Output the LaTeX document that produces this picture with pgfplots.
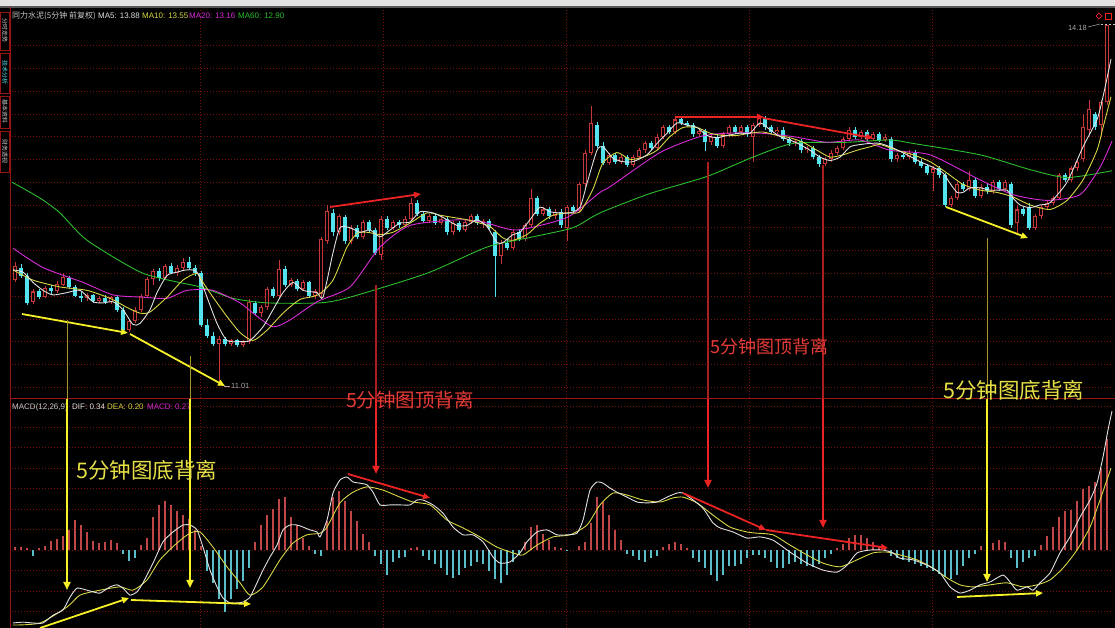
\documentclass[border=0pt]{standalone}
\usepackage{pgfplots}
\pgfplotsset{compat=1.18}
\usepackage{pgfplotstable}
\usepackage{fontspec}
\setmainfont{Liberation Sans}
\newfontfamily\cjk{Noto Sans CJK SC}
\usetikzlibrary{arrows.meta,shapes.geometric}
\definecolor{gridred}{RGB}{120,16,16}
\definecolor{sepred}{RGB}{150,20,20}
\definecolor{upred}{RGB}{200,55,55}
\definecolor{dncyan}{RGB}{84,228,240}
\definecolor{ma5}{RGB}{225,225,225}
\definecolor{ma10}{RGB}{215,215,70}
\definecolor{ma20}{RGB}{215,45,215}
\definecolor{ma60}{RGB}{45,190,45}
\definecolor{histred}{RGB}{190,70,70}
\definecolor{histcyan}{RGB}{90,190,200}
\definecolor{arrred}{RGB}{235,35,35}
\definecolor{arryel}{RGB}{245,240,40}
\definecolor{arrdim}{RGB}{170,150,40}
\definecolor{arrdimred}{RGB}{170,30,30}
\definecolor{txtred}{RGB}{230,60,55}
\definecolor{txtyel}{RGB}{230,225,70}
\definecolor{lgray}{RGB}{200,200,200}
\definecolor{mgray}{RGB}{165,165,165}

\pgfplotsset{panel/.style={
  scale only axis, width=1101pt, xmin=12, xmax=1113, anchor=south west,
  axis line style={draw=none}, tick style={draw=none},
  xticklabels={}, yticklabels={},
  xtick={200,383,566,749,932},
  grid=major, major grid style={gridred, line width=0.6pt, dash pattern=on 1pt off 2pt},
}}

\pgfplotstableread{
x o h l c
15 11.94 12.10 11.92 12.06
33 11.75 11.86 11.73 11.84
45 11.79 11.89 11.78 11.87
57 11.84 11.93 11.83 11.91
63 11.90 12.00 11.89 11.97
87 11.78 11.83 11.76 11.81
99 11.76 11.80 11.74 11.78
111 11.75 11.80 11.73 11.79
129 11.50 11.60 11.48 11.58
135 11.58 11.70 11.56 11.68
141 11.68 11.82 11.66 11.80
147 11.80 11.97 11.78 11.95
153 11.95 12.04 11.90 12.02
165 11.96 12.08 11.94 12.06
177 12.00 12.07 11.98 12.05
183 12.05 12.13 12.03 12.10
219 11.38 11.45 11.01 11.42
231 11.38 11.42 11.36 11.41
243 11.37 11.41 11.35 11.40
249 11.40 11.77 11.38 11.75
261 11.65 11.72 11.62 11.70
267 11.70 11.88 11.68 11.86
279 11.80 12.12 11.78 12.04
291 11.90 11.96 11.88 11.94
303 11.86 11.94 11.84 11.92
315 11.80 11.86 11.77 11.84
321 11.82 12.32 11.78 12.30
327 12.28 12.60 12.26 12.55
339 12.36 12.52 12.34 12.50
351 12.28 12.42 12.26 12.40
363 12.32 12.47 12.30 12.45
381 12.16 12.50 12.12 12.48
393 12.40 12.47 12.38 12.45
405 12.42 12.50 12.40 12.48
411 12.48 12.66 12.46 12.62
429 12.46 12.52 12.44 12.50
441 12.44 12.50 12.42 12.48
453 12.36 12.46 12.34 12.44
465 12.38 12.47 12.36 12.45
471 12.45 12.52 12.43 12.50
483 12.44 12.48 12.40 12.46
501 12.15 12.29 12.08 12.27
513 12.22 12.38 12.20 12.36
525 12.30 12.44 12.28 12.42
531 12.42 12.74 12.40 12.66
543 12.52 12.58 12.50 12.56
555 12.50 12.56 12.48 12.54
567 12.40 12.60 12.28 12.58
579 12.55 12.80 12.53 12.78
585 12.78 13.08 12.76 13.06
591 13.06 13.47 13.04 13.32
609 12.97 13.06 12.95 13.04
621 12.98 13.04 12.96 13.02
633 12.95 13.04 12.93 13.02
639 13.02 13.10 13.00 13.08
645 13.08 13.16 13.06 13.14
657 13.10 13.22 13.08 13.20
663 13.20 13.30 13.18 13.28
675 13.24 13.38 13.22 13.35
699 13.22 13.27 13.20 13.25
711 13.15 13.22 13.13 13.20
723 13.12 13.24 13.10 13.22
729 13.22 13.30 13.20 13.28
741 13.24 13.30 13.22 13.28
753 13.20 13.32 12.98 13.30
759 13.30 13.38 13.28 13.36
777 13.24 13.28 13.22 13.26
795 13.14 13.18 13.12 13.16
807 13.08 13.12 13.06 13.10
825 12.96 13.02 12.94 13.00
831 13.00 13.08 12.98 13.06
837 13.06 13.12 13.04 13.10
843 13.10 13.20 13.08 13.18
849 13.18 13.28 13.16 13.26
861 13.20 13.26 13.18 13.24
873 13.18 13.24 13.16 13.22
885 13.17 13.22 13.15 13.20
897 13.00 13.06 12.98 13.04
909 13.02 13.08 13.00 13.06
933 12.88 12.94 12.72 12.92
951 12.60 12.68 12.58 12.66
957 12.66 12.80 12.64 12.78
969 12.74 12.90 12.72 12.82
981 12.68 12.78 12.66 12.76
993 12.72 12.82 12.70 12.80
1005 12.74 12.82 12.72 12.80
1017 12.44 12.60 12.34 12.56
1035 12.40 12.52 12.38 12.50
1041 12.50 12.60 12.48 12.58
1047 12.58 12.64 12.56 12.62
1053 12.62 12.68 12.60 12.66
1059 12.66 12.88 12.64 12.86
1071 12.82 12.94 12.80 12.92
1077 12.92 13.00 12.90 12.98
1083 13.00 13.40 12.98 13.28
1089 13.26 13.52 13.22 13.44
1101 13.30 13.52 13.20 13.50
1107 13.50 14.18 13.48 14.18
}\up

\pgfplotstableread{
x o h l c
21 12.05 12.08 11.96 11.98
27 11.98 12.00 11.72 11.74
39 11.84 11.86 11.77 11.79
51 11.87 11.90 11.82 11.84
69 11.96 11.98 11.86 11.88
75 11.88 11.90 11.79 11.80
81 11.80 11.84 11.75 11.78
93 11.81 11.82 11.74 11.76
105 11.78 11.81 11.73 11.75
117 11.79 11.80 11.66 11.68
123 11.68 11.70 11.47 11.50
159 12.02 12.05 11.93 11.96
171 12.06 12.09 11.99 12.00
189 12.10 12.14 12.03 12.05
195 12.05 12.07 11.98 12.00
201 12.00 12.02 11.53 11.55
207 11.55 11.60 11.43 11.45
213 11.45 11.48 11.36 11.38
225 11.42 11.44 11.36 11.38
237 11.41 11.42 11.35 11.37
255 11.74 11.76 11.63 11.65
273 11.86 11.88 11.78 11.80
285 12.04 12.06 11.88 11.90
297 11.93 11.95 11.84 11.86
309 11.92 11.93 11.78 11.80
333 12.53 12.56 12.33 12.36
345 12.49 12.51 12.26 12.28
357 12.40 12.42 12.30 12.32
369 12.45 12.47 12.36 12.38
375 12.38 12.40 12.16 12.18
387 12.48 12.50 12.38 12.40
399 12.45 12.47 12.40 12.42
417 12.62 12.64 12.50 12.52
423 12.52 12.54 12.44 12.46
435 12.50 12.52 12.42 12.44
447 12.48 12.50 12.34 12.36
459 12.44 12.46 12.36 12.38
477 12.50 12.52 12.42 12.44
489 12.46 12.48 12.38 12.40
495 12.36 12.38 11.79 12.15
507 12.27 12.29 12.20 12.22
519 12.36 12.38 12.28 12.30
537 12.66 12.68 12.50 12.52
549 12.56 12.58 12.48 12.50
561 12.54 12.56 12.40 12.42
573 12.58 12.60 12.53 12.55
597 13.30 13.33 13.10 13.12
603 13.12 13.15 12.95 12.97
615 13.04 13.06 12.96 12.98
627 13.02 13.04 12.93 12.95
651 13.14 13.16 13.08 13.10
669 13.28 13.30 13.22 13.24
681 13.35 13.37 13.30 13.32
687 13.32 13.34 13.28 13.30
693 13.30 13.32 13.20 13.22
705 13.25 13.27 13.07 13.15
717 13.20 13.22 13.10 13.12
735 13.28 13.30 13.22 13.24
747 13.28 13.30 13.20 13.22
765 13.36 13.38 13.26 13.28
771 13.28 13.30 13.22 13.24
783 13.26 13.28 13.16 13.18
789 13.18 13.20 13.12 13.14
801 13.16 13.18 13.06 13.08
813 13.10 13.12 13.00 13.02
819 13.02 13.04 12.93 12.96
855 13.26 13.28 13.18 13.20
867 13.24 13.26 13.16 13.18
879 13.22 13.24 13.15 13.17
891 13.18 13.20 12.98 13.00
903 13.04 13.06 13.00 13.02
915 13.06 13.08 12.96 12.98
921 12.98 13.00 12.92 12.94
927 12.94 12.96 12.86 12.88
939 12.92 12.94 12.84 12.86
945 12.86 12.88 12.58 12.60
963 12.78 12.80 12.72 12.74
975 12.82 12.84 12.66 12.68
987 12.76 12.78 12.70 12.72
999 12.80 12.82 12.72 12.74
1011 12.78 12.80 12.40 12.42
1023 12.56 12.58 12.50 12.52
1029 12.58 12.62 12.38 12.40
1065 12.86 12.88 12.80 12.82
1095 13.40 13.42 13.26 13.28
}\dn

\pgfplotstableread{
x v
15 0.008
21 0.008
27 0.005
33 -0.015
39 0.004
45 0.010
51 0.022
57 0.028
63 0.035
69 0.050
75 0.072
81 0.060
87 0.045
93 0.022
99 0.018
105 0.020
111 0.025
117 0.018
123 -0.010
129 -0.028
135 -0.020
141 0.012
147 0.030
153 0.080
159 0.110
165 0.120
171 0.110
177 0.095
183 0.085
189 0.075
195 0.050
201 0.010
207 -0.050
213 -0.080
219 -0.120
225 -0.150
231 -0.120
237 -0.095
243 -0.075
249 -0.045
255 0.020
261 0.060
267 0.085
273 0.100
279 0.125
285 0.130
291 0.080
297 0.060
303 0.030
309 0.010
315 -0.010
321 -0.015
327 0.070
333 0.130
339 0.145
345 0.120
351 0.095
357 0.070
363 0.040
369 0.020
375 -0.015
381 -0.035
387 -0.060
393 -0.030
399 -0.020
405 -0.018
411 0.005
417 0.008
423 -0.015
429 -0.025
435 -0.035
441 -0.045
447 -0.060
453 -0.068
459 -0.060
465 -0.045
471 -0.040
477 -0.030
483 -0.035
489 -0.050
495 -0.070
501 -0.080
507 -0.060
513 -0.030
519 -0.012
525 0.020
531 0.055
537 0.060
543 0.040
549 0.025
555 0.008
561 0.005
567 -0.003
573 0.000
579 0.010
585 0.020
591 0.065
597 0.130
603 0.118
609 0.085
615 0.050
621 0.025
627 -0.010
633 -0.015
639 -0.025
645 -0.030
651 -0.020
657 -0.015
663 0.008
669 0.015
675 0.020
681 0.015
687 0.005
693 -0.020
699 -0.030
705 -0.045
711 -0.060
717 -0.075
723 -0.060
729 -0.040
735 -0.038
741 -0.035
747 -0.020
753 -0.012
759 -0.012
765 -0.020
771 -0.030
777 -0.045
783 -0.045
789 -0.035
795 -0.030
801 -0.035
807 -0.040
813 -0.042
819 -0.035
825 -0.020
831 -0.010
837 0.005
843 0.015
849 0.030
855 0.036
861 0.036
867 0.030
873 0.020
879 0.010
885 0.005
891 -0.015
897 -0.020
903 -0.025
909 -0.030
915 -0.035
921 -0.040
927 -0.045
933 -0.050
939 -0.058
945 -0.066
951 -0.070
957 -0.060
963 -0.040
969 -0.020
975 -0.010
981 0.010
987 0.020
993 0.018
999 0.025
1005 0.020
1011 -0.020
1017 -0.045
1023 -0.030
1029 -0.020
1035 -0.015
1041 0.012
1047 0.035
1053 0.055
1059 0.080
1065 0.095
1071 0.098
1077 0.120
1083 0.150
1089 0.155
1095 0.165
1101 0.200
1107 0.270
}\hist

\begin{document}
\begin{tikzpicture}[x=1pt,y=1pt]
\fill[black] (0pt,0pt) rectangle (1115pt,628pt);
\useasboundingbox (0pt,0pt) rectangle (1115pt,628pt);
% top strip
\fill[gray!22] (0,621) rectangle (1115,628);
\draw[gray!70!black, line width=1.2pt] (0,621) -- (1115,621);

% ---------------- price panel ----------------
\begin{axis}[panel, at={(12pt,230pt)}, height=390pt, ymin=10.905, ymax=14.329,
  ytick={11,11.2,11.4,11.6,11.8,12,12.2,12.4,12.6,12.8,13,13.2,13.4,13.6,13.8,14}]
% wicks
\addplot[draw=none, mark=none, error bars/.cd, y dir=both, y explicit, error mark=none,
  error bar style={draw=upred, line width=0.8pt}]
  table[x=x, y=c, y error plus expr=\thisrow{h}-\thisrow{c}, y error minus expr=\thisrow{c}-\thisrow{l}] {\up};
\addplot[draw=none, mark=none, error bars/.cd, y dir=both, y explicit, error mark=none,
  error bar style={draw=dncyan, line width=0.8pt}]
  table[x=x, y=c, y error plus expr=\thisrow{h}-\thisrow{c}, y error minus expr=\thisrow{c}-\thisrow{l}] {\dn};
% bodies (red ones hollow)
\addplot[draw=none, mark=none, error bars/.cd, y dir=both, y explicit, error mark=none,
  error bar style={draw=upred, line width=3.6pt}]
  table[x=x, y=c, y error plus expr=0, y error minus expr=\thisrow{c}-\thisrow{o}] {\up};
\addplot[draw=none, mark=none, error bars/.cd, y dir=both, y explicit, error mark=none,
  error bar style={draw=black, line width=1.3pt}]
  table[x=x, y expr=\thisrow{c}-0.009, y error plus expr=0, y error minus expr={max(\thisrow{c}-\thisrow{o}-0.018,0)}] {\up};
\addplot[draw=none, mark=none, error bars/.cd, y dir=both, y explicit, error mark=none,
  error bar style={draw=dncyan, line width=3.6pt}]
  table[x=x, y=c, y error plus expr=\thisrow{o}-\thisrow{c}, y error minus expr=0] {\dn};
% MA60
\addplot[ma60, line width=0.9pt, smooth, tension=0.4] coordinates {
(12,12.80)(40,12.66)(60,12.53)(87,12.29)(143,12.00)(200,11.88)(233,11.78)(267,11.74)(320,11.74)(350,11.79)(427,12.00)(487,12.23)(533,12.32)(573,12.40)(600,12.53)(650,12.70)(707,12.85)(753,13.02)(793,13.14)(847,13.15)(890,13.17)(913,13.14)(980,13.04)(1030,12.91)(1067,12.84)(1112,12.90)};
% MA20
\addplot[ma20, line width=0.9pt, smooth, tension=0.4] coordinates {
(13,12.22)(43,12.05)(83,11.92)(113,11.81)(143,11.79)(167,11.78)(187,11.85)(213,11.85)(240,11.74)(253,11.65)(273,11.53)(290,11.59)(317,11.75)(350,11.88)(380,12.23)(410,12.42)(460,12.47)(487,12.44)(517,12.38)(567,12.49)(600,12.71)(610,12.76)(660,13.06)(700,13.20)(727,13.23)(760,13.23)(793,13.20)(827,13.15)(860,13.17)(890,13.08)(930,13.04)(980,12.82)(1013,12.69)(1047,12.64)(1080,12.69)(1100,12.93)(1112,13.16)};
% MA10
\addplot[ma10, line width=0.9pt, smooth, tension=0.4] coordinates {
(13,12.03)(33,11.94)(60,11.88)(87,11.85)(110,11.78)(127,11.70)(140,11.65)(150,11.66)(167,11.79)(183,11.94)(197,12.00)(203,11.92)(213,11.79)(227,11.62)(240,11.48)(253,11.41)(267,11.50)(283,11.65)(300,11.77)(318,11.81)(333,11.94)(347,12.23)(357,12.35)(367,12.36)(380,12.34)(393,12.36)(410,12.44)(427,12.53)(440,12.51)(453,12.49)(467,12.47)(480,12.44)(490,12.41)(503,12.31)(513,12.29)(527,12.34)(540,12.44)(553,12.51)(567,12.53)(580,12.54)(593,12.74)(603,12.97)(617,13.06)(630,13.00)(643,13.02)(657,13.08)(670,13.20)(683,13.28)(697,13.28)(710,13.23)(723,13.21)(737,13.21)(750,13.23)(763,13.24)(777,13.21)(790,13.19)(803,13.15)(817,13.08)(830,13.02)(843,13.04)(857,13.08)(870,13.11)(880,13.13)(897,13.08)(913,13.04)(930,12.98)(947,12.88)(963,12.78)(980,12.73)(997,12.71)(1013,12.67)(1030,12.60)(1050,12.56)(1067,12.64)(1083,12.82)(1097,13.08)(1103,13.28)(1111,13.55)};
% MA5
\addplot[ma5, line width=0.9pt, smooth, tension=0.4] coordinates {
(13,12.03)(23,12.01)(33,11.92)(43,11.85)(53,11.81)(67,11.83)(80,11.85)(93,11.75)(103,11.74)(113,11.75)(123,11.68)(133,11.55)(140,11.56)(150,11.68)(157,11.83)(167,11.98)(177,12.01)(187,12.03)(197,12.01)(207,11.79)(217,11.56)(227,11.41)(240,11.40)(250,11.41)(263,11.53)(273,11.68)(283,11.83)(293,11.92)(303,11.85)(317,11.83)(323,11.79)(333,12.18)(340,12.40)(350,12.40)(360,12.36)(370,12.38)(380,12.32)(390,12.38)(400,12.44)(410,12.45)(420,12.54)(433,12.53)(443,12.49)(457,12.42)(467,12.42)(477,12.47)(487,12.41)(497,12.27)(503,12.27)(513,12.34)(520,12.36)(530,12.47)(540,12.58)(550,12.54)(560,12.53)(570,12.53)(580,12.58)(587,12.79)(597,13.08)(603,13.11)(613,13.01)(623,12.98)(633,12.98)(647,13.04)(657,13.14)(667,13.23)(677,13.32)(687,13.30)(697,13.28)(707,13.21)(717,13.19)(727,13.21)(740,13.23)(750,13.23)(760,13.32)(770,13.26)(780,13.20)(790,13.17)(800,13.13)(810,13.08)(820,13.02)(830,12.99)(840,13.02)(850,13.11)(860,13.13)(870,13.14)(880,13.14)(893,13.10)(907,13.04)(920,12.98)(933,12.93)(943,12.88)(950,12.79)(957,12.71)(963,12.71)(970,12.75)(980,12.75)(990,12.73)(1000,12.73)(1007,12.73)(1013,12.66)(1020,12.60)(1027,12.58)(1033,12.58)(1040,12.60)(1050,12.62)(1067,12.80)(1083,13.11)(1097,13.35)(1103,13.55)(1111,13.88)};
\end{axis}

% ---------------- MACD panel ----------------
\begin{axis}[panel, at={(12pt,0pt)}, height=228pt, ymin=-0.1902, ymax=0.3659,
  ytick={-0.15,-0.1,-0.05,0,0.05,0.1,0.15,0.2,0.25,0.3,0.35}]
\addplot[ycomb, histred, line width=1.1pt, mark=none, restrict y to domain=0:1] table[x=x, y=v] {\hist};
\addplot[ycomb, histcyan, line width=1.1pt, mark=none, restrict y to domain=-1:0] table[x=x, y=v] {\hist};
% DEA
\addplot[ma10, line width=0.9pt, smooth, tension=0.4] coordinates {
(13,-0.183)(40,-0.178)(67,-0.139)(80,-0.110)(100,-0.098)(120,-0.090)(133,-0.098)(147,-0.073)(160,-0.024)(177,0.017)(190,0.041)(200,0.044)(213,0.007)(227,-0.041)(240,-0.080)(250,-0.110)(263,-0.090)(280,-0.024)(293,0.017)(307,0.037)(320,0.041)(327,0.056)(340,0.115)(353,0.141)(367,0.154)(383,0.146)(400,0.129)(413,0.117)(430,0.110)(447,0.073)(463,0.054)(480,0.032)(497,0.007)(513,-0.007)(523,-0.012)(537,0.012)(553,0.032)(570,0.037)(587,0.061)(600,0.110)(613,0.139)(627,0.134)(643,0.122)(660,0.117)(673,0.127)(683,0.129)(697,0.115)(713,0.085)(730,0.056)(747,0.044)(757,0.041)(773,0.037)(790,0.012)(807,-0.012)(823,-0.032)(840,-0.041)(857,-0.024)(873,-0.007)(887,-0.005)(900,-0.012)(917,-0.024)(933,-0.044)(947,-0.068)(960,-0.085)(973,-0.090)(990,-0.085)(1007,-0.080)(1023,-0.090)(1037,-0.085)(1050,-0.073)(1063,-0.044)(1077,0.000)(1090,0.056)(1100,0.122)(1111,0.200)};
% DIF
\addplot[ma5, line width=0.9pt, smooth, tension=0.35] coordinates {
(13,-0.178)(23,-0.176)(33,-0.178)(43,-0.178)(53,-0.159)(63,-0.146)(70,-0.115)(77,-0.093)(87,-0.098)(93,-0.102)(100,-0.105)(110,-0.090)(117,-0.085)(123,-0.093)(130,-0.110)(137,-0.102)(143,-0.080)(153,-0.032)(163,0.020)(173,0.044)(183,0.061)(190,0.061)(197,0.049)(203,0.007)(210,-0.049)(217,-0.090)(223,-0.117)(230,-0.129)(237,-0.129)(243,-0.127)(250,-0.115)(257,-0.080)(263,-0.049)(270,-0.017)(277,0.012)(283,0.049)(290,0.061)(297,0.061)(303,0.056)(310,0.049)(317,0.044)(320,0.032)(327,0.073)(333,0.139)(340,0.171)(347,0.178)(353,0.166)(360,0.163)(367,0.159)(373,0.141)(380,0.110)(390,0.110)(400,0.110)(410,0.110)(417,0.122)(423,0.122)(433,0.110)(443,0.090)(453,0.056)(463,0.037)(473,0.037)(483,0.020)(493,-0.017)(500,-0.032)(510,-0.029)(520,-0.007)(527,0.020)(537,0.044)(547,0.049)(557,0.037)(567,0.037)(577,0.041)(583,0.073)(590,0.146)(597,0.166)(603,0.163)(610,0.151)(617,0.141)(627,0.129)(637,0.117)(647,0.115)(657,0.117)(667,0.129)(677,0.139)(683,0.139)(693,0.122)(703,0.102)(713,0.066)(720,0.054)(733,0.044)(747,0.029)(760,0.032)(773,0.024)(790,-0.005)(807,-0.032)(823,-0.049)(837,-0.054)(847,-0.037)(857,-0.007)(870,0.000)(883,0.000)(893,-0.007)(900,-0.020)(913,-0.024)(927,-0.037)(940,-0.056)(950,-0.090)(960,-0.105)(970,-0.098)(980,-0.085)(990,-0.078)(1003,-0.061)(1010,-0.078)(1017,-0.098)(1027,-0.090)(1033,-0.098)(1040,-0.080)(1050,-0.056)(1060,-0.007)(1070,0.032)(1080,0.080)(1090,0.122)(1097,0.163)(1103,0.227)(1108,0.293)(1112,0.339)};
\end{axis}

% frame lines
\draw[sepred, line width=1pt] (10,229) -- (1115,229);
\draw[sepred, line width=1pt] (10.5,0) -- (10.5,621);
% left tabs
\foreach \ya/\yb in {578/616, 535/575, 500/532, 456/497}{
  \draw[sepred, line width=0.6pt] (0.5,\ya) rectangle (9.5,\yb);}
\node[rotate=-90, font=\cjk\fontsize{6}{6}\selectfont, text=lgray, inner sep=0] at (5,597) {分时走势};
\node[rotate=-90, font=\cjk\fontsize{6}{6}\selectfont, text=dncyan, inner sep=0] at (5,555) {技术分析};
\node[rotate=-90, font=\cjk\fontsize{6}{6}\selectfont, text=lgray, inner sep=0] at (5,516) {基本资料};
\node[rotate=-90, font=\cjk\fontsize{6}{6}\selectfont, text=lgray, inner sep=0] at (5,476) {财务透视};

% header texts
\node[anchor=base west, inner sep=0, text=lgray, font=\cjk\fontsize{8}{9}\selectfont] at (12,609) {同力水泥(5分钟 前复权)};
\node[anchor=base west, inner sep=0, text=ma5, font=\fontsize{8}{9}\selectfont] at (98,609) {MA5: 13.88};
\node[anchor=base west, inner sep=0, text=ma10, font=\fontsize{8}{9}\selectfont] at (142,609) {MA10: 13.55};
\node[anchor=base west, inner sep=0, text=ma20, font=\fontsize{8}{9}\selectfont] at (189,609) {MA20: 13.16};
\node[anchor=base west, inner sep=0, text=ma60, font=\fontsize{8}{9}\selectfont] at (238,609) {MA60: 12.90};

\node[anchor=base west, inner sep=0, text=lgray, font=\fontsize{8}{9}\selectfont] at (12,218) {MACD(12,26,9)};
\node[anchor=base west, inner sep=0, text=ma5, font=\fontsize{8}{9}\selectfont] at (72,218) {DIF: 0.34};
\node[anchor=base west, inner sep=0, text=ma10, font=\fontsize{8}{9}\selectfont] at (107,218) {DEA: 0.20};
\node[anchor=base west, inner sep=0, text=ma20, font=\fontsize{8}{9}\selectfont] at (147,218) {MACD: 0.27};

% price markers
\node[anchor=base east, inner sep=0, text=mgray, font=\fontsize{7.5}{8}\selectfont] at (1087,597) {14.18};
\draw[mgray, line width=0.5pt] (1088,601) -- (1100,604);
\draw[lgray, line width=0.6pt, dash pattern=on 2pt off 2pt] (1101,604) -- (1115,604);
\draw[mgray, line width=0.5pt] (224,242) -- (230,242);
\node[anchor=west, inner sep=0, text=mgray, font=\fontsize{7.5}{8}\selectfont] at (231,242) {11.01};
\node[draw=arrred, diamond, minimum size=6pt, inner sep=0, line width=0.6pt] at (1099,612) {};
\draw[arrred, line width=0.7pt] (1105,609) rectangle (1111,615);

% annotation arrows
\begin{scope}[line width=1.8pt, -{Triangle[length=7pt,width=6pt]}]
\draw[arryel] (22,314) -- (128,295);
\draw[arryel] (130,294) -- (225,242);
\draw[arrred] (330,421) -- (421,434);
\draw[arrred] (676,511) -- (764,511);
\draw[arrred] (763,510) -- (873,490);
\draw[arryel] (946,421) -- (1028,390);
\draw[arryel] (40,0) -- (129,30);
\draw[arryel] (131,28) -- (251,24);
\draw[arrred] (348,154) -- (430,130);
\draw[arrred] (683,135) -- (766,98);
\draw[arrred] (766,98) -- (888,80);
\draw[arryel] (957,31) -- (1043,35);
\end{scope}
% vertical arrows
\draw[arrdim, line width=1pt] (67,308) -- (67,229);
\draw[arrdim, line width=1pt] (190,272) -- (190,229);
\draw[arrdim, line width=1pt] (987,390) -- (987,229);
\draw[arrdimred, line width=1.2pt] (376,343) -- (376,229);
\draw[arrdimred, line width=1.2pt] (708,466) -- (708,229);
\draw[arrdimred, line width=1.2pt] (823,463) -- (823,229);
\begin{scope}[line width=2.2pt, -{Triangle[length=8pt,width=7pt]}]
\draw[arryel] (67,229) -- (67,38);
\draw[arryel] (190,229) -- (190,40);
\draw[arryel] (987,229) -- (987,46);
\draw[arrred] (376,229) -- (376,154);
\draw[arrred] (708,229) -- (708,140);
\draw[arrred] (823,229) -- (823,100);
\end{scope}

% annotation texts
\node[text=txtred, font=\cjk\fontsize{19.5}{20}\selectfont, inner sep=0] at (410,228) {5分钟图顶背离};
\node[text=txtred, font=\cjk\fontsize{18}{19}\selectfont, inner sep=0] at (769,281) {5分钟图顶背离};
\node[text=txtyel, font=\cjk\fontsize{21.5}{22}\selectfont, inner sep=0] at (147,158) {5分钟图底背离};
\node[text=txtyel, font=\cjk\fontsize{21.5}{22}\selectfont, inner sep=0] at (1014,238) {5分钟图底背离};
\end{tikzpicture}
\end{document}
